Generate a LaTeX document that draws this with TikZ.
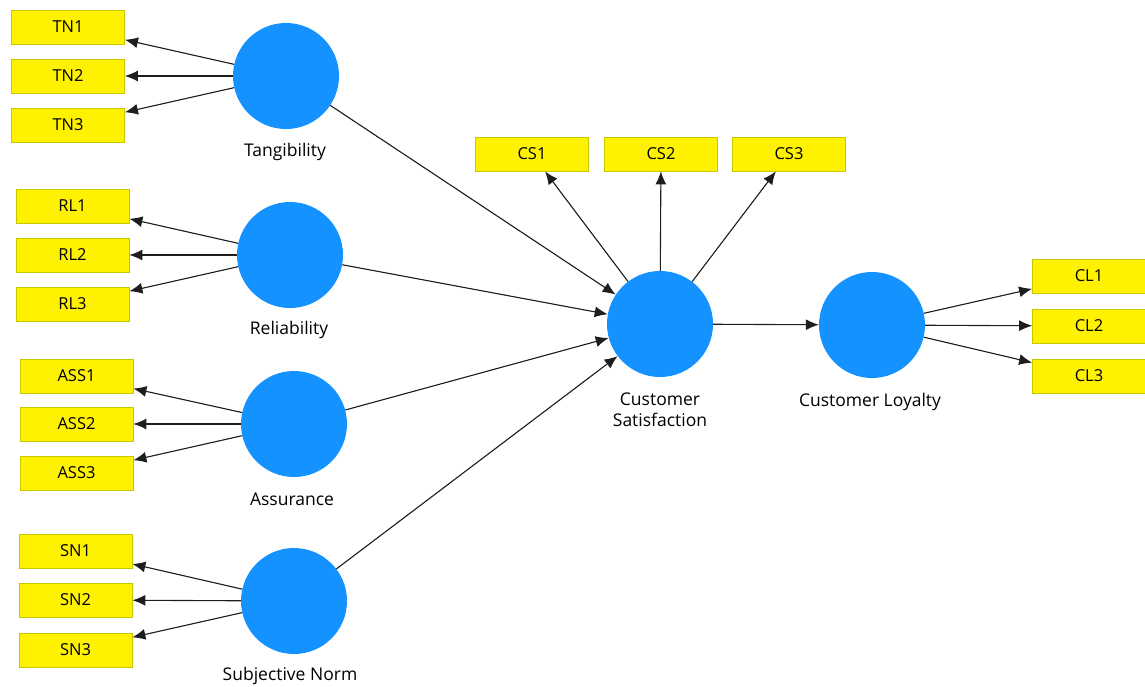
\documentclass[tikz,border=0pt]{standalone}
\usepackage{fontspec}
\setmainfont{Open Sans}
\usetikzlibrary{arrows.meta}
\definecolor{latblue}{RGB}{20,146,255}
\definecolor{ybord}{RGB}{200,200,0}
\definecolor{lgray}{RGB}{30,30,30}
\begin{document}
\begin{tikzpicture}[x=1pt,y=-1pt,
 ind/.style={draw=ybord, fill=yellow, minimum width=113pt, minimum height=34pt, inner sep=0pt, font=\fontsize{16.5}{19}\selectfont, line width=0.8pt},
 lat/.style={circle, fill=latblue, minimum size=106pt, inner sep=0pt},
 lab/.style={font=\fontsize{17.5}{21}\selectfont, align=center},
 arr/.style={-{Latex[length=13pt,width=11pt]}, line width=1.1pt, draw=lgray, fill=black}]
\useasboundingbox (0,0) rectangle (1145,686);
% latent variables
\node[lat] (T) at (286,76) {};
\node[lat] (R) at (290,255) {};
\node[lat] (A) at (294,424) {};
\node[lat] (S) at (294,601) {};
\node[lat] (CS) at (660,324) {};
\node[lat] (CL) at (872,325) {};
% labels
\node[lab] (Tl) at (285,152) {Tangibility};
\node[lab] (Rl) at (289,330) {Reliability};
\node[lab] (Al) at (292,499) {Assurance};
\node[lab] (Sl) at (290,676) {Subjective Norm};
\node[lab] (CSl) at (660,410) {Customer\\Satisfaction};
\node[lab] (CLl) at (870,402) {Customer Loyalty};
% indicators
\node[ind] (TN1) at (68,27) {TN1};
\node[ind] (TN2) at (68,76) {TN2};
\node[ind] (TN3) at (68,125) {TN3};
\node[ind] (RL1) at (72.5,206) {RL1};
\node[ind] (RL2) at (72.5,255) {RL2};
\node[ind] (RL3) at (72.5,304) {RL3};
\node[ind] (ASS1) at (76.5,376) {ASS1};
\node[ind] (ASS2) at (76.5,424) {ASS2};
\node[ind] (ASS3) at (76.5,473) {ASS3};
\node[ind] (SN1) at (75.5,551) {SN1};
\node[ind] (SN2) at (75.5,600) {SN2};
\node[ind] (SN3) at (75.5,650) {SN3};
\node[ind] (CS1) at (532,154) {CS1};
\node[ind] (CS2) at (661,154) {CS2};
\node[ind] (CS3) at (789,154) {CS3};
\node[ind] (CL1) at (1089,276) {CL1};
\node[ind] (CL2) at (1089,326) {CL2};
\node[ind] (CL3) at (1089,376) {CL3};
% measurement arrows
\foreach \l/\i in {T/TN1,T/TN2,T/TN3,R/RL1,R/RL2,R/RL3,A/ASS1,A/ASS2,A/ASS3,S/SN1,S/SN2,S/SN3,CS/CS1,CS/CS2,CS/CS3,CL/CL1,CL/CL2,CL/CL3}
  \draw[arr] (\l) -- (\i);
% structural arrows
\foreach \l in {T,R,A,S}
  \draw[arr] (\l) -- (CS);
\draw[arr] (CS) -- (CL);
\end{tikzpicture}
\end{document}
